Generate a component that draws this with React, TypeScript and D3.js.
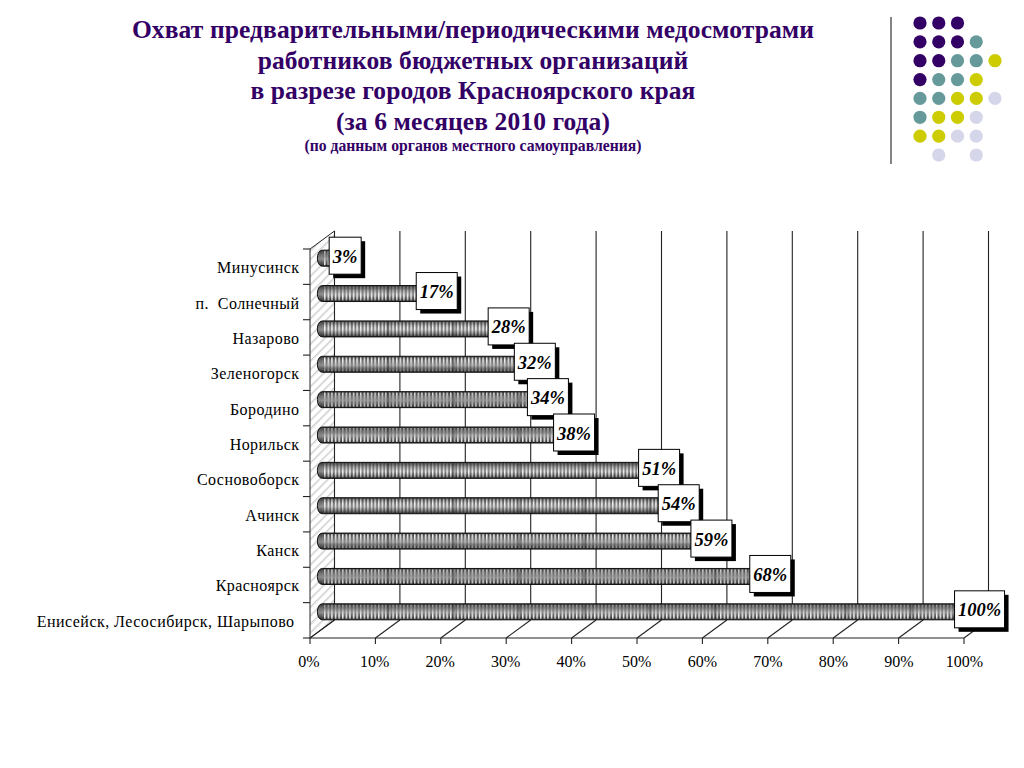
import React from "react";
import * as d3 from "d3";

const titleLines = [
  "Охват предварительными/периодическими медосмотрами",
  "работников бюджетных организаций",
  "в разрезе городов Красноярского края",
  "(за 6 месяцев 2010 года)",
];
const subtitle = "(по данным органов местного самоуправления)";
const categories = [
  "Минусинск",
  "п.  Солнечный",
  "Назарово",
  "Зеленогорск",
  "Бородино",
  "Норильск",
  "Сосновоборск",
  "Ачинск",
  "Канск",
  "Красноярск",
  "Енисейск, Лесосибирск, Шарыпово",
];
const values = [3, 17, 28, 32, 34, 38, 51, 54, 59, 68, 100];
const xTicks = [0, 10, 20, 30, 40, 50, 60, 70, 80, 90, 100];
const dotPalette = ["#330066", "#669999", "#CCCC00", "#D6D6EA"];
const dotRows = [
  [0, 0, 0, -1, -1],
  [0, 0, 0, 1, -1],
  [0, 0, 1, 1, 2],
  [0, 1, 1, 2, -1],
  [1, 1, 2, 2, 3],
  [1, 2, 2, 3, -1],
  [2, 2, 3, 3, -1],
  [-1, 3, -1, 3, -1],
];

const SERIF = '"Liberation Serif", serif';
const DEPTH_X = 24.5;
const DEPTH_Y = 18;
const x = d3.scaleLinear().domain([0, 100]).range([310, 964]);
const y = d3.scaleBand<string>().domain(categories).range([249, 638]).padding(0);
const dotX = d3.scalePoint<number>().domain([0, 1, 2, 3, 4]).range([920, 995]);
const dotY = d3.scalePoint<number>().domain(d3.range(dotRows.length)).range([23, 155]);

export default function App() {
  const top = 249;
  const bottom = 638;
  const barH = 16;
  const bw = y.bandwidth();
  return (
    <svg
      width={1024}
      height={768}
      style={{ position: "absolute", left: 0, top: 0, background: "#fff" }}
      fontFamily={SERIF}
    >
      <defs>
        <linearGradient id="cyl" x1="0" x2="0" y1="0" y2="1">
          <stop offset="0" stopColor="#333" />
          <stop offset="0.3" stopColor="#707070" />
          <stop offset="0.55" stopColor="#8c8c8c" />
          <stop offset="0.8" stopColor="#555" />
          <stop offset="1" stopColor="#222" />
        </linearGradient>
        <linearGradient id="stripeFade" x1="0" x2="0" y1="0" y2="1">
          <stop offset="0" stopColor="#fff" stopOpacity="0.2" />
          <stop offset="0.5" stopColor="#fff" stopOpacity="0.95" />
          <stop offset="1" stopColor="#fff" stopOpacity="0.25" />
        </linearGradient>
        <pattern id="stripes" width="3.6" height="16" patternUnits="userSpaceOnUse">
          <rect x="0" y="0" width="1.5" height="16" fill="url(#stripeFade)" />
        </pattern>
        <pattern id="hatch" width="6" height="6" patternUnits="userSpaceOnUse" patternTransform="rotate(45)">
          <rect width="6" height="6" fill="#fff" />
          <rect width="1.6" height="6" fill="#d2d2d2" />
        </pattern>
      </defs>

      {titleLines.map((t, i) => (
        <text key={t} x={473} y={38 + i * 30.5} textAnchor="middle" fontSize={25.5} fontWeight="bold" letterSpacing={0.1} fill="#330066">
          {t}
        </text>
      ))}
      <text x={473} y={150.5} textAnchor="middle" fontSize={15.7} fontWeight="bold" fill="#330066">
        {subtitle}
      </text>

      <line x1={891} x2={891} y1={17} y2={164} stroke="#333" strokeWidth={1.2} />
      {dotRows.map((row, r) =>
        row.map((c, k) =>
          c < 0 ? null : (
            <circle key={`${r}-${k}`} cx={dotX(k)} cy={dotY(r)} r={6.6} fill={dotPalette[c]} />
          )
        )
      )}

      {/* left wall */}
      <path
        d={`M${x(0)},${top} L${x(0) + DEPTH_X},${top - DEPTH_Y} L${x(0) + DEPTH_X},${bottom - DEPTH_Y} L${x(0)},${bottom} Z`}
        fill="url(#hatch)"
        stroke="#222"
        strokeWidth={1}
      />
      {/* back grid lines and floor */}
      {xTicks.map((t) => (
        <g key={t} stroke="#222" strokeWidth={1.1}>
          <line x1={x(t) + DEPTH_X} x2={x(t) + DEPTH_X} y1={top - DEPTH_Y} y2={bottom - DEPTH_Y} />
          <line x1={x(t)} x2={x(t) + DEPTH_X} y1={bottom} y2={bottom - DEPTH_Y} />
          <line x1={x(t)} x2={x(t)} y1={bottom} y2={bottom + 6} />
        </g>
      ))}
      <line x1={x(0)} x2={x(100)} y1={bottom} y2={bottom} stroke="#222" strokeWidth={1.1} />
      {[...categories, "end"].map((c, i) => (
        <line key={c} x1={x(0) - 7} x2={x(0)} y1={top + i * bw} y2={top + i * bw} stroke="#222" strokeWidth={1.1} />
      ))}

      {/* bars */}
      {categories.map((c, i) => {
        const cy = (y(c) as number) + bw / 2 - DEPTH_Y / 2 + 0.5;
        const x0 = x(0) + DEPTH_X / 2;
        const x1 = x(values[i]) + DEPTH_X / 2;
        const d = `M${x0},${cy - barH / 2} L${x1},${cy - barH / 2} L${x1},${cy + barH / 2} L${x0},${cy + barH / 2} C${x0 - 6.5},${cy + barH / 2} ${x0 - 6.5},${cy - barH / 2} ${x0},${cy - barH / 2} Z`;
        return (
          <g key={c}>
            <path d={d} fill="url(#cyl)" stroke="#111" strokeWidth={1} />
            <rect x={x0} y={cy - barH / 2 + 1} width={Math.max(0, x1 - x0)} height={barH - 2} fill="url(#stripes)" />
            {xTicks
              .filter((t) => t > 0 && t < values[i])
              .map((t) => (
                <rect key={t} x={x(t) + DEPTH_X / 2 - 1} y={cy - barH / 2 + 1} width={3} height={barH - 2} fill="#000" opacity={0.22} />
              ))}
          </g>
        );
      })}

      {/* value boxes */}
      {categories.map((c, i) => {
        const label = `${values[i]}%`;
        const cy = (y(c) as number) + bw / 2 - DEPTH_Y / 2 - 2;
        const cx = x(values[i]) + DEPTH_X / 2 + 3.3;
        const w = String(values[i]).length * 9 + 15 + 8;
        return (
          <g key={c}>
            <rect x={cx - w / 2 + 4} y={cy - 18.5 + 4} width={w} height={37} fill="#000" />
            <rect x={cx - w / 2} y={cy - 18.5} width={w} height={37} fill="#fff" stroke="#000" strokeWidth={1} />
            <text x={cx} y={cy + 7} textAnchor="middle" fontSize={18.5} fontWeight="bold" fontStyle="italic" fill="#000">
              {label}
            </text>
          </g>
        );
      })}

      {/* category labels */}
      {categories.map((c, i) => (
        <text
          key={c}
          x={i === categories.length - 1 ? 294.5 : 299.5}
          y={(y(c) as number) + bw / 2 + 6.5}
          textAnchor="end"
          fontSize={16}
          letterSpacing={0.45}
          fill="#000"
          style={{ whiteSpace: "pre" }}
        >
          {c}
        </text>
      ))}

      {/* tick labels */}
      {xTicks.map((t) => (
        <text key={t} x={x(t) - 1 + t * 0.015} y={667} textAnchor="middle" fontSize={16} fill="#000">
          {t}%
        </text>
      ))}
    </svg>
  );
}
